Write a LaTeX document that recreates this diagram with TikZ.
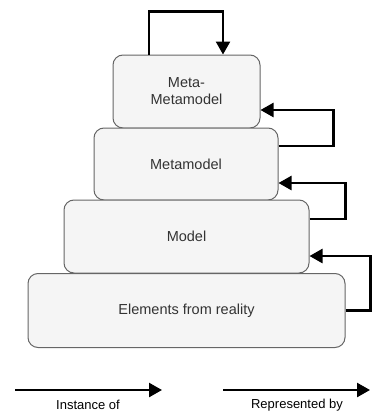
\documentclass[tikz,border=0pt]{standalone}
\usepackage{fontspec}
\setmainfont{Liberation Sans}
\usetikzlibrary{arrows.meta}
\definecolor{boxfill}{HTML}{F5F5F5}
\definecolor{boxline}{HTML}{666666}
\definecolor{boxtext}{HTML}{333333}

\begin{document}
\begin{tikzpicture}[x=1pt, y=-1pt,
    layer/.style = {draw=boxline, fill=boxfill, rounded corners=10pt, line width=1pt,
        text=boxtext, align=center, font=\fontsize{14.5}{17}\selectfont, inner sep=0pt},
    loop/.style = {line width=2.5pt, -{Triangle[length=13pt,width=14pt]}},
    legend/.style = {font=\fontsize{13}{15}\selectfont, inner sep=1pt}]
\useasboundingbox (0,0) rectangle (373,415);
% the four layers
\node[layer, minimum width=147pt, minimum height=73pt] (metameta) at (186.5,91.5) {Meta-\\Metamodel};
\node[layer, minimum width=184pt, minimum height=72pt] (meta) at (186,164) {Metamodel};
\node[layer, minimum width=245pt, minimum height=73pt] (model) at (186.5,236.5) {Model};
\node[layer, minimum width=317pt, minimum height=74pt] (reality) at (186.5,310.5) {Elements from reality};
% loops
\draw[loop] ([xshift=-37.5pt]metameta.north) -- ++(0,-43) -| ([xshift=36.5pt]metameta.north);
\draw[loop] ([yshift=18pt]meta.east) -- ++(55,0) |- ([yshift=-18.5pt]metameta.east);
\draw[loop] ([yshift=17.5pt]model.east) -- ++(36,0) |- ([yshift=-19pt]meta.east);
\draw[loop] (reality.east) -- ++(25,0) |- ([yshift=-19.5pt]model.east);
% legend
\coordinate (inst a) at (15,390);
\coordinate (inst b) at (162,390);
\coordinate (repr a) at (223,390);
\coordinate (repr b) at (370,390);
\draw[loop] (inst a) -- (inst b);
\draw[loop] (repr a) -- (repr b);
\node[legend] (inst) at (88,405) {Instance of};
\node[legend] (repr) at (297,405) {Represented by};
\end{tikzpicture}
\end{document}
